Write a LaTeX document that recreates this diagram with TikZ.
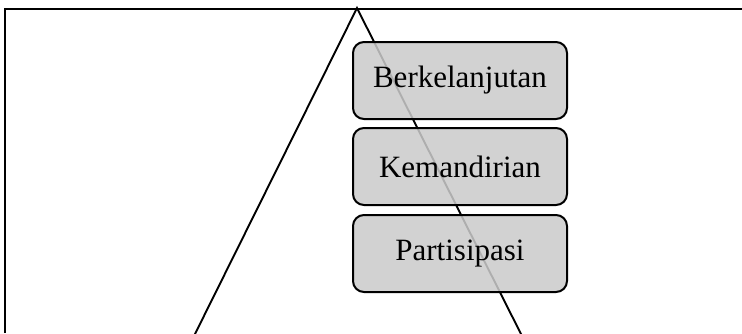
\documentclass[tikz,border=0pt]{standalone}
\usepackage{fontspec}
\setmainfont{Liberation Serif}
\definecolor{boxgray}{RGB}{203,203,203}
\tikzset{
  frameline/.style={line width=2.2pt},
  triline/.style={line width=1.9pt},
  stagebox/.style={draw, line width=2pt, rounded corners=11pt,
    fill=boxgray, fill opacity=0.86, text opacity=1,
    minimum width=214pt, minimum height=77pt, inner sep=0pt,
    font=\fontsize{31}{35}\selectfont}
}
\begin{document}
\begin{tikzpicture}[x=1pt,y=1pt]
  \useasboundingbox (0,0) rectangle (742,-333);
  \clip (0,0) rectangle (742,-333);
  % open frame: top and left edges only
  \coordinate (fl) at (5,-333);
  \coordinate (ftl) at (5,-9);
  \coordinate (ftr) at (745,-9);
  \draw[frameline] (fl) -- (ftl) -- (ftr);
  % triangle behind the stages
  \coordinate (apex) at (357,-8);
  \coordinate (bl) at (193,-338);
  \coordinate (br) at (523,-338);
  \draw[triline, line join=miter] (bl) -- (apex) -- (br);
  % stages
  \node[stagebox] (b1) at (460,-80.5) {Berkelanjutan};
  \node[stagebox] (b2) at (460,-166.5) {Kemandirian};
  \node[stagebox] (b3) at (460,-253.5) {Partisipasi};
\end{tikzpicture}
\end{document}
